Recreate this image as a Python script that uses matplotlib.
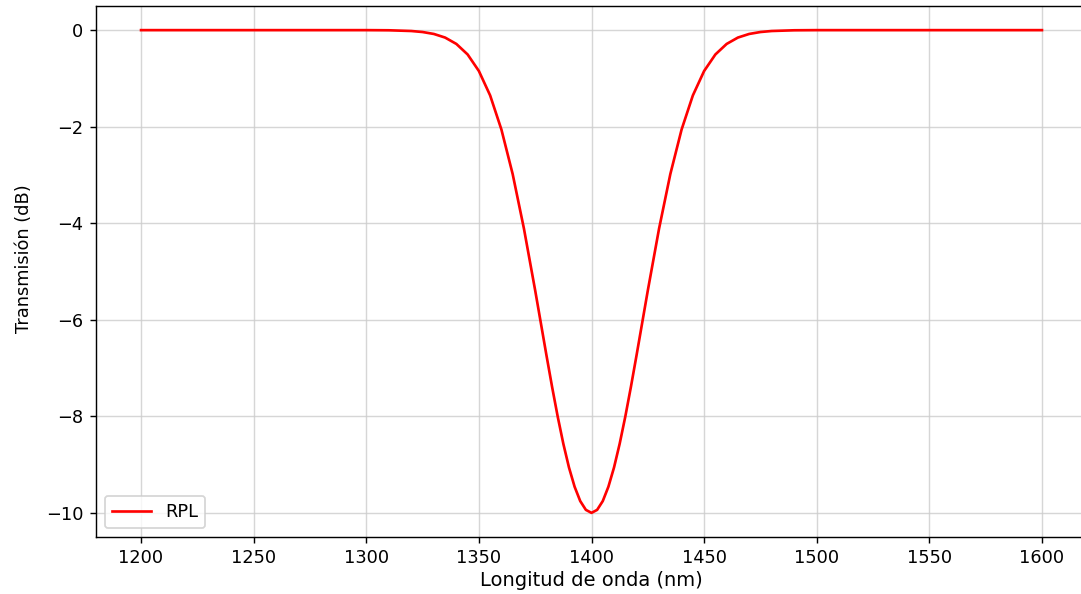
import matplotlib
matplotlib.use("Agg")
import matplotlib.pyplot as plt

# Longitud de onda (nm) y transmision (dB)
wavelength = [1200, 1250, 1290, 1300, 1310, 1320, 1325, 1330, 1335, 1340, 1345,
              1350, 1355, 1360, 1365, 1370, 1375, 1380, 1382.5, 1385, 1387.5,
              1390, 1392.5, 1395, 1397.5, 1400, 1402.5, 1405, 1407.5, 1410,
              1412.5, 1415, 1417.5, 1420, 1425, 1430, 1435, 1440, 1445, 1450,
              1455, 1460, 1465, 1470, 1475, 1480, 1490, 1500, 1510, 1550, 1600]
transmission = [0.0, 0.0, 0.0, 0.0, -0.003, -0.018, -0.039, -0.079, -0.154, -0.286, -0.504,
                -0.847, -1.353, -2.059, -2.982, -4.111, -5.394, -6.736, -7.390, -8.007, -8.570,
                -9.060, -9.459, -9.756, -9.938, -10.0, -9.938, -9.756, -9.459, -9.060,
                -8.570, -8.007, -7.390, -6.736, -5.394, -4.111, -2.982, -2.059, -1.353, -0.847,
                -0.504, -0.286, -0.154, -0.079, -0.039, -0.018, -0.003, 0.0, 0.0, 0.0, 0.0]

# rendered at higher dpi so text and lines come out as large as in the reference
fig = plt.figure(figsize=(1081 / 128, 594 / 128), dpi=128)
ax = fig.add_axes([96 / 1081, 57 / 594, 991 / 1081, 531 / 594])

ax.plot(wavelength, transmission, color="red", linewidth=1.5, label="RPL")
ax.set_xlabel("Longitud de onda (nm)", fontsize=11, labelpad=2)
ax.set_ylabel("Transmisión (dB)", fontsize=10)
ax.yaxis.set_label_coords(-0.064, 0.5235)
ax.set_xticks(range(1200, 1601, 50))
ax.grid(True, color="#cccccc", linewidth=0.8, alpha=0.8)
ax.legend(loc="lower left", handlelength=2.2)

fig.savefig("out.png", dpi=128)
